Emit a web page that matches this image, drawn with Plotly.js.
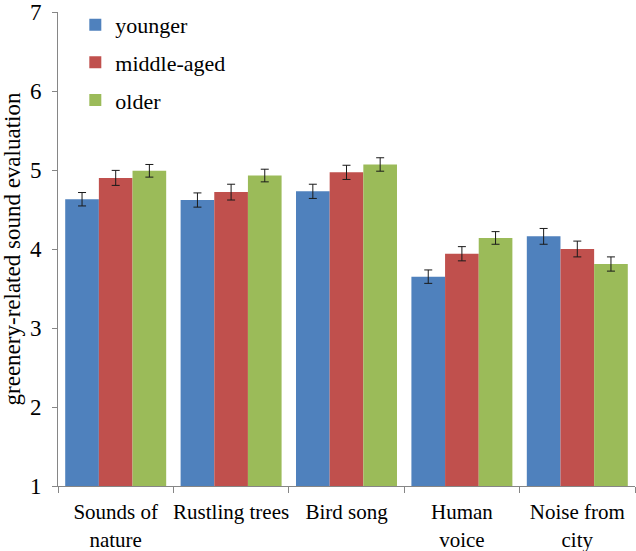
<!DOCTYPE html>
<html>
<head>
<meta charset="utf-8">
<script src="https://cdn.plot.ly/plotly-3.0.1.min.js"></script>
<style>html,body{margin:0;padding:0;background:#fff;}#chart{width:636px;height:551px;}</style>
</head>
<body>
<div id="chart"></div>
<script>
var categories = ["Sounds of<br>nature", "Rustling trees", "Bird song", "Human<br>voice", "Noise from<br>city"];
var seriesNames = ["younger", "middle-aged", "older"];
var younger = [4.63, 4.62, 4.73, 3.65, 4.16];
var middleAged = [4.90, 4.72, 4.97, 3.94, 4.00];
var older = [4.99, 4.93, 5.07, 4.14, 3.81];
var youngerErr = [0.085, 0.09, 0.09, 0.085, 0.10];
var middleAgedErr = [0.095, 0.10, 0.09, 0.09, 0.10];
var olderErr = [0.08, 0.08, 0.085, 0.08, 0.09];
var colors = ["#4F81BD", "#C0504D", "#9BBB59"];

var values = [younger, middleAged, older];
var errs = [youngerErr, middleAgedErr, olderErr];
var font = "Times New Roman, Times, Liberation Serif, DejaVu Serif, serif";

var traces = seriesNames.map(function(name, i){
  return {
    type: "bar",
    name: name,
    x: categories,
    y: values[i],
    legendgroup: "g" + i,
    marker: {color: colors[i], line: {width: 0}},
    error_y: {type: "data", array: errs[i], visible: true, color: "#1a1a1a", thickness: 1, width: 4}
  };
});

var layout = {
  width: 636, height: 551,
  margin: {l: 58, r: 1, t: 12, b: 65},
  paper_bgcolor: "#fff", plot_bgcolor: "#fff",
  barmode: "group", bargap: 0.125, bargroupgap: 0,
  font: {family: font, size: 22, color: "#000"},
  showlegend: true,
  legend: {x: 0.03, y: 1.017, xanchor: "left", yanchor: "top", bgcolor: "rgba(0,0,0,0)",
           font: {family: font, size: 22, color: "#000"}, tracegroupgap: 6, itemwidth: 30},
  xaxis: {
    type: "category", showgrid: false, zeroline: false,
    showline: true, linecolor: "#868686", linewidth: 1,
    ticks: "outside", tickson: "boundaries", ticklen: 6, tickcolor: "#868686",
    tickfont: {family: font, size: 21, color: "#000"}, tickangle: 0,
    ticklabelstandoff: 7,
    range: [-0.5, 4.5]
  },
  yaxis: {
    range: [1, 7], dtick: 1, showgrid: false, zeroline: false,
    showline: true, linecolor: "#868686", linewidth: 1,
    ticks: "outside", ticklen: 5, tickcolor: "#868686",
    tickfont: {family: font, size: 23, color: "#000"},
    ticklabelstandoff: 6,
    title: {text: "greenery-related sound evaluation", font: {family: font, size: 23, color: "#000"}, standoff: 7},
    automargin: false
  }
};

Plotly.newPlot("chart", traces, layout, {displayModeBar: false, staticPlot: true});
</script>
</body>
</html>
